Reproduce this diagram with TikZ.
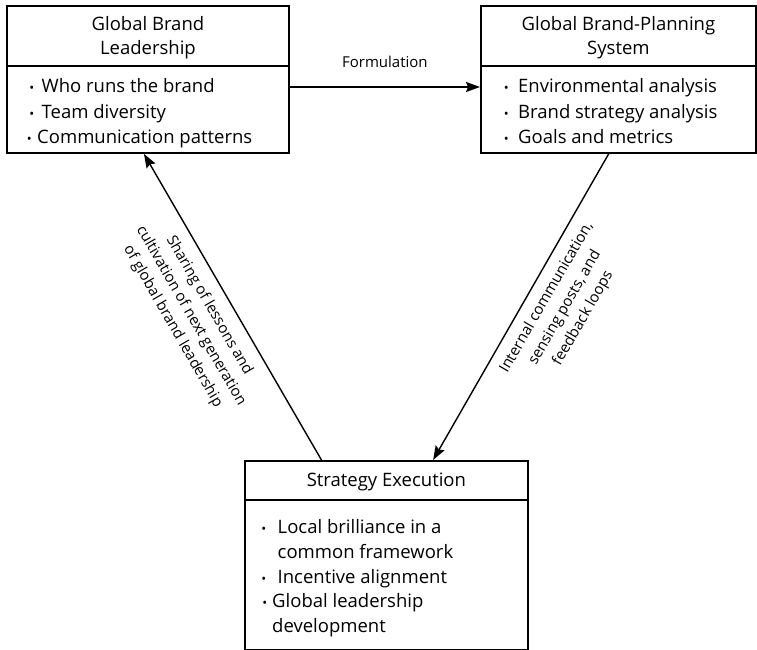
\documentclass[tikz,border=0pt]{standalone}
\usepackage{fontspec}
\setmainfont{Open Sans}
\usetikzlibrary{arrows.meta,calc}
% bullet centred #1 to the left of an item's first letter
\newcommand{\itemdot}[1]{\llap{\makebox[0pt]{\fontsize{13}{13}\selectfont •}\hspace{#1}}}
\begin{document}
\begin{tikzpicture}[x=1pt,y=-1pt,
  box/.style={draw, line width=1.8pt, rectangle, anchor=north west, inner sep=0pt},
  ttext/.style={align=center, inner sep=0pt, font=\fontsize{18.5}{24}\selectfont},
  item/.style={anchor=base west, inner sep=0pt, font=\fontsize{18.5}{24}\selectfont},
  link/.style={line width=1.4pt, -{Stealth[length=14pt,width=10pt,inset=2pt]}},
  lbl/.style={align=center, inner sep=0pt, font=\fontsize{15}{21}\selectfont}
]
\useasboundingbox (0,0) rectangle (757,650);

% Global Brand Leadership
\node[box, minimum width=282pt, minimum height=60pt] (glTop) at (6,5) {};
\node[ttext] (glTitle) at ([yshift=-2pt]glTop.center) {Global Brand\\Leadership};
\node[box, minimum width=282pt, minimum height=87pt] (glBody) at (6,65) {};
\node[item] (gl1) at (41.5,93)  {\itemdot{10pt}Who runs the brand};
\node[item] (gl2) at (41.5,119) {\itemdot{10pt}Team diversity};
\node[item] (gl3) at (37,143)   {\itemdot{8pt}Communication patterns};

% Global Brand-Planning System
\node[box, minimum width=275pt, minimum height=60pt] (gpTop) at (480,5) {};
\node[ttext] (gpTitle) at ([yshift=-2pt]gpTop.center) {Global Brand-Planning\\System};
\node[box, minimum width=275pt, minimum height=87pt] (gpBody) at (480,65) {};
\node[item] (gp1) at (518,93)  {\itemdot{12pt}Environmental analysis};
\node[item] (gp2) at (518,119) {\itemdot{12pt}Brand strategy analysis};
\node[item] (gp3) at (518,143) {\itemdot{12pt}Goals and metrics};

% Strategy Execution
\node[box, minimum width=283pt, minimum height=39pt] (seTop) at (244,460) {};
\node[ttext] (seTitle) at ([yshift=-1.5pt]seTop.center) {Strategy Execution};
\node[box, minimum width=283pt, minimum height=150pt] (seBody) at (244,499) {};
\node[item] (se1) at (277.5,533) {\itemdot{14pt}Local brilliance in a};
\node[item] (se1b) at (277.5,558) {common framework};
\node[item] (se2) at (277.5,583) {\itemdot{14pt}Incentive alignment};
\node[item] (se3) at (272,607) {\itemdot{7.5pt}Global leadership};
\node[item] (se3b) at (272,632) {development};

% connectors
\draw[link] ([yshift=-22pt]glBody.north east) -- ([yshift=-22pt]gpBody.north west)
  node[midway, anchor=base, yshift=19pt, inner sep=0pt, font=\fontsize{15}{17}\selectfont] (formLbl) {Formulation};
\draw[link] ($(gpBody.south west)!0.465!(gpBody.south east)$) -- ($(seTop.north west)!0.664!(seTop.north east)$);
\draw[link] ($(seTop.north west)!0.272!(seTop.north east)$) -- ($(glBody.south west)!0.486!(glBody.south east)$);

\node[lbl, rotate=-60] (shareLbl) at (191,316) {Sharing of lessons and\\cultivation of next generation\\of global brand leadership};
\node[lbl, rotate=60] (commLbl) at (565,308) {Internal communication,\\sensing posts, and\\feedback loops};
\end{tikzpicture}
\end{document}
